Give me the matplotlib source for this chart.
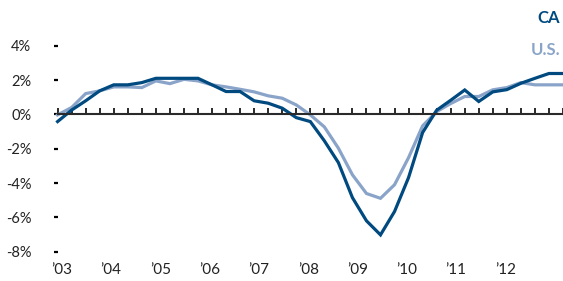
import matplotlib
matplotlib.use('Agg')
import matplotlib.pyplot as plt
import matplotlib.transforms as mtransforms
import numpy as np

# quarterly growth, 2003Q1 .. 2012Q1
ca = [-0.42, 0.25, 0.79, 1.37, 1.72, 1.72, 1.85, 2.1, 2.1, 2.1, 2.1, 1.72,
      1.33, 1.33, 0.79, 0.65, 0.36, -0.19, -0.42, -1.54, -2.81, -4.85, -6.2,
      -7.02, -5.66, -3.68, -1.06, 0.24, 0.82, 1.42, 0.75, 1.31, 1.44, 1.81,
      2.1, 2.38, 2.38]
us = [-0.03, 0.4, 1.21, 1.37, 1.6, 1.6, 1.56, 1.95, 1.79, 2.04, 1.95, 1.72,
      1.6, 1.46, 1.31, 1.08, 0.94, 0.55, -0.03, -0.73, -1.97, -3.52, -4.61,
      -4.89, -4.1, -2.52, -0.67, 0.16, 0.63, 1.04, 1.04, 1.43, 1.56, 1.85,
      1.72, 1.72, 1.72]
year_labels = ['\u201903', '\u201904', '\u201905', '\u201906', '\u201907',
               '\u201908', '\u201909', '\u201910', '\u201911', '\u201912']
y_ticks = [4, 2, 0, -2, -4, -6, -8]

dark = '#004a80'
light = '#8aa4c9'

plt.rcParams['font.family'] = ['Lato', 'DejaVu Sans']

fig = plt.figure(figsize=(5.63, 2.81), dpi=100)
ax = fig.add_axes([0.1023, 0.1043, 0.8977, 0.7331])

x = np.arange(len(ca))
ax.plot(x, us, color=light, lw=2.3, clip_on=False, solid_joinstyle='miter')
ax.plot(x, ca, color=dark, lw=2.3, clip_on=False, solid_joinstyle='miter')

ax.set_xlim(0, len(ca) - 1)
ax.set_ylim(-8, 4)

for s in ['top', 'right', 'left']:
    ax.spines[s].set_visible(False)
ax.spines['bottom'].set_position(('data', 0))
ax.spines['bottom'].set_color('#2a2a2a')
ax.spines['bottom'].set_linewidth(1.5)

ax.set_xticks(x)
ax.tick_params(axis='x', direction='in', length=4, width=1.4, color='#2a2a2a',
               labelbottom=False)
ax.set_yticks(y_ticks)
ax.set_yticklabels([f'{v}%' for v in y_ticks])
ax.tick_params(axis='y', length=3, width=1.6, color='black', pad=16,
               labelsize=10.5, labelcolor='#222222')

trans = mtransforms.blended_transform_factory(ax.transData, fig.transFigure)
label_pos = np.linspace(0.3, 31.9, len(year_labels))
for pos, lab in zip(label_pos, year_labels):
    ax.text(pos, 0.04, lab, transform=trans, ha='center', va='center',
            fontsize=11, color='#222222')

fig.text(0.995, 0.935, 'CA', ha='right', va='center', fontsize=12,
         fontweight='bold', color=dark)
fig.text(0.995, 0.822, 'U.S.', ha='right', va='center', fontsize=12,
         fontweight='bold', color=light)

fig.savefig('out.png', dpi=100)
